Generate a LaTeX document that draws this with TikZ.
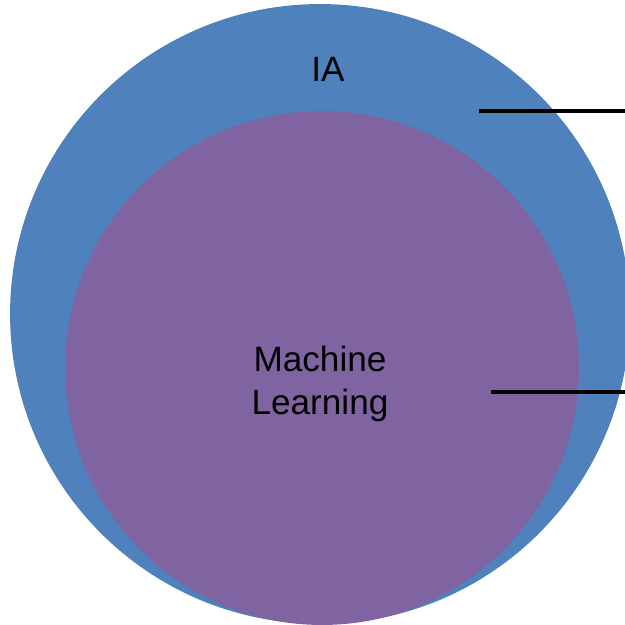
\documentclass[tikz,border=0pt]{standalone}
\usepackage{fontspec}
\setmainfont{Liberation Sans}
\usetikzlibrary{positioning}

\definecolor{iablue}{HTML}{4F81BD}
\definecolor{mlpurple}{HTML}{8064A2}

\begin{document}
\begin{tikzpicture}[x=0.02cm, y=-0.02cm,
  disc/.style={circle, inner sep=0pt},
  lbl/.style={font=\fontsize{20}{24.4}\selectfont, align=center, inner sep=0pt},
  leader/.style={line width=2.3pt}]
  \useasboundingbox (0,0) rectangle (625,625);
  \node[disc, fill=iablue, minimum size=12.4cm] (ia) at (320,314) {};
  \node[disc, fill=mlpurple, minimum size=10.28cm] (ml) at (322,368) {};

  \node[lbl, anchor=base] (ialabel) at (328,81.7) {IA};
  \node[lbl] (mllabel) at (320,384) {Machine\\Learning};

  \coordinate (a1) at (479,111);
  \coordinate (a2) at (625,111);
  \coordinate (b1) at (491,392);
  \coordinate (b2) at (625,392);
  \draw[leader] (a1) -- (a2);
  \draw[leader] (b1) -- (b2);
\end{tikzpicture}
\end{document}
